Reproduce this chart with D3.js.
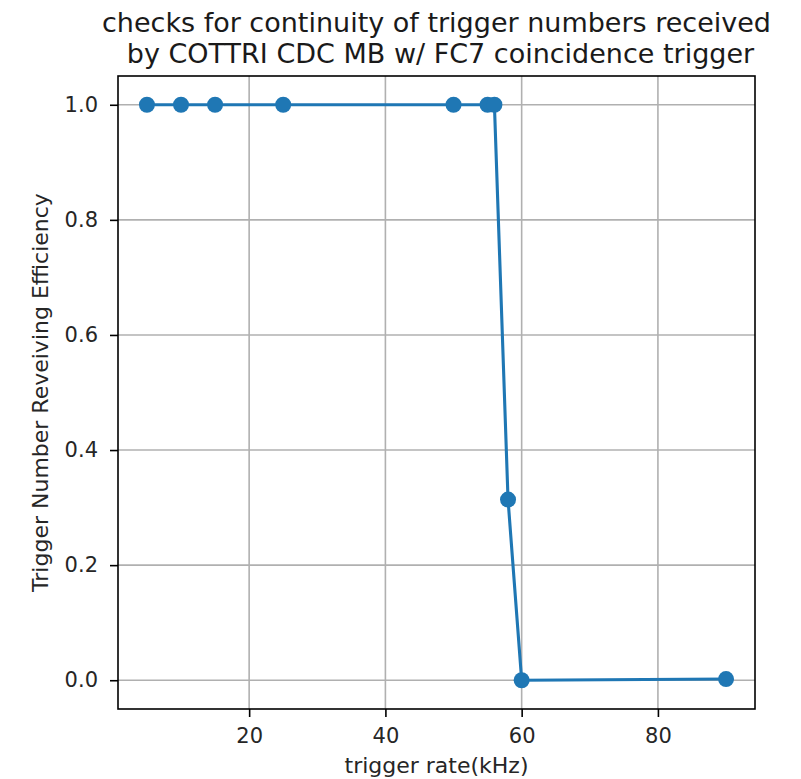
<!DOCTYPE html>
<html>
<head>
<meta charset="utf-8">
<script src="https://cdn.jsdelivr.net/npm/d3@7"></script>
<style>
  html, body { margin: 0; padding: 0; background: #ffffff; }
  svg { display: block; font-family: "DejaVu Sans", sans-serif; }
</style>
</head>
<body>
<svg id="chart" width="801" height="779"></svg>
<script>
// Trigger rate (kHz) and the fraction of trigger numbers received in order
const rates = [5, 10, 15, 25, 50, 55, 56, 58, 60, 90];
const efficiency = [1.0, 1.0, 1.0, 1.0, 1.0, 1.0, 1.0, 0.314, 0.0, 0.002];
const xTicks = [20, 40, 60, 80];
const yTicks = [0.0, 0.2, 0.4, 0.6, 0.8, 1.0];
const titleLines = [
  "checks for continuity of trigger numbers received",
  "by COTTRI CDC MB w/ FC7 coincidence trigger"
];
const xLabel = "trigger rate(kHz)";
const yLabel = "Trigger Number Reveiving Efficiency";

const svg = d3.select("#chart");
const margin = { left: 118, right: 46, top: 76, bottom: 70 };
const W = 801, H = 779;
const plotW = W - margin.left - margin.right;
const plotH = H - margin.top - margin.bottom;

// 5% padding on each side of the data range
const xMin = d3.min(rates), xMax = d3.max(rates);
const xPad = (xMax - xMin) * 0.05;
const yMin = d3.min(efficiency), yMax = d3.max(efficiency);
const yPad = (yMax - yMin) * 0.05;

const x = d3.scaleLinear().domain([xMin - xPad, xMax + xPad]).range([0, plotW]);
const y = d3.scaleLinear().domain([yMin - yPad, yMax + yPad]).range([plotH, 0]);

const g = svg.append("g").attr("transform", `translate(${margin.left},${margin.top})`);

// grid
g.append("g").selectAll("line").data(xTicks).join("line")
  .attr("x1", d => x(d)).attr("x2", d => x(d))
  .attr("y1", 0).attr("y2", plotH)
  .attr("stroke", "#b0b0b0").attr("stroke-width", 1.6);
g.append("g").selectAll("line").data(yTicks).join("line")
  .attr("y1", d => y(d)).attr("y2", d => y(d))
  .attr("x1", 0).attr("x2", plotW)
  .attr("stroke", "#b0b0b0").attr("stroke-width", 1.6);

// line + markers
const line = d3.line().x((d, i) => x(rates[i])).y(d => y(d));
g.append("path").datum(efficiency)
  .attr("d", line).attr("fill", "none")
  .attr("stroke", "#1f77b4").attr("stroke-width", 3.1)
  .attr("stroke-linejoin", "round").attr("stroke-linecap", "square");
g.append("g").selectAll("circle").data(efficiency).join("circle")
  .attr("cx", (d, i) => x(rates[i])).attr("cy", d => y(d))
  .attr("r", 8).attr("fill", "#1f77b4");

// axes
const xAxis = d3.axisBottom(x).tickValues(xTicks).tickFormat(d3.format("d"))
  .tickSize(8).tickPadding(11);
const yAxis = d3.axisLeft(y).tickValues(yTicks).tickFormat(d3.format(".1f"))
  .tickSize(8).tickPadding(12);

const gx = g.append("g").attr("transform", `translate(0,${plotH})`).call(xAxis);
const gy = g.append("g").call(yAxis);
[gx, gy].forEach(a => {
  a.select(".domain").remove();
  a.selectAll(".tick line").attr("stroke", "#000").attr("stroke-width", 1.6);
  a.selectAll(".tick text").attr("fill", "#262626")
    .style("font-size", "21px").style("font-family", "DejaVu Sans");
});

// frame
g.append("rect").attr("x", 0).attr("y", 0).attr("width", plotW).attr("height", plotH)
  .attr("fill", "none").attr("stroke", "#000").attr("stroke-width", 1.6);

// axis labels
svg.append("text")
  .attr("x", margin.left + plotW / 2).attr("y", 773)
  .attr("text-anchor", "middle").attr("fill", "#262626")
  .style("font-size", "22px").text(xLabel);
svg.append("text")
  .attr("transform", `translate(48,${margin.top + plotH / 2}) rotate(-90)`)
  .attr("text-anchor", "middle").attr("fill", "#262626")
  .style("font-size", "22px").text(yLabel);

// title, centred over the plot
const cx = margin.left + plotW / 2;
const titleOffsets = [0, 4];
svg.append("g").selectAll("text").data(titleLines).join("text")
  .attr("x", (d, i) => cx + titleOffsets[i])
  .attr("y", (d, i) => 32 + i * 31)
  .attr("text-anchor", "middle").attr("fill", "#1a1a1a")
  .style("font-size", "27px").text(d => d);
</script>
</body>
</html>
